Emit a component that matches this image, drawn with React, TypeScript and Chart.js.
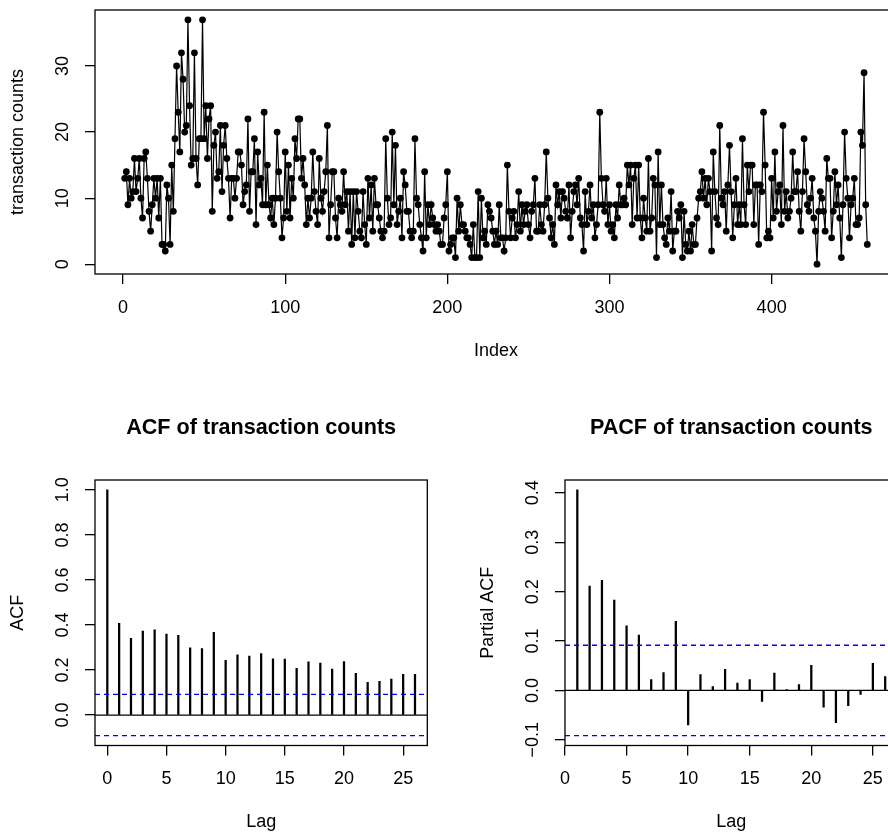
import React, { useEffect, useRef } from "react";
import { Chart, registerables } from "chart.js";

Chart.register(...registerables);

// ---------- data ----------
const transactionCounts: number[] = [
  13, 14, 9, 13, 10, 11, 16, 11, 13, 16,
  10, 7, 16, 17, 13, 8, 5, 9, 13, 10,
  13, 7, 13, 3, 3, 2, 12, 10, 3, 15,
  8, 19, 30, 23, 17, 32, 28, 20, 21, 37,
  24, 15, 16, 32, 16, 12, 19, 19, 37, 19,
  24, 16, 22, 24, 8, 18, 20, 13, 14, 21,
  11, 18, 21, 16, 13, 7, 13, 13, 10, 13,
  17, 17, 15, 9, 11, 12, 22, 8, 14, 14,
  19, 6, 17, 12, 13, 9, 23, 9, 15, 9,
  7, 10, 6, 10, 20, 14, 10, 4, 7, 17,
  8, 15, 7, 13, 10, 19, 16, 22, 22, 13,
  16, 12, 6, 10, 7, 10, 17, 11, 8, 6,
  16, 10, 8, 11, 14, 21, 4, 9, 14, 14,
  7, 4, 10, 9, 8, 14, 9, 11, 5, 11,
  3, 11, 4, 11, 8, 5, 4, 11, 6, 3,
  13, 7, 12, 5, 13, 9, 9, 7, 5, 4,
  5, 19, 10, 6, 7, 20, 9, 18, 6, 8,
  10, 4, 14, 12, 8, 8, 5, 4, 5, 19,
  10, 9, 6, 4, 2, 14, 4, 9, 6, 9,
  7, 6, 5, 6, 5, 3, 3, 7, 9, 14,
  2, 3, 4, 4, 1, 10, 5, 9, 6, 6,
  5, 4, 4, 3, 1, 6, 1, 1, 11, 1,
  10, 4, 5, 3, 9, 8, 7, 5, 3, 5,
  3, 9, 4, 4, 2, 4, 15, 8, 4, 7,
  8, 4, 6, 11, 5, 9, 6, 8, 9, 6,
  4, 8, 9, 13, 5, 5, 9, 6, 5, 9,
  17, 10, 7, 4, 6, 3, 12, 9, 11, 7,
  11, 10, 8, 7, 12, 4, 8, 11, 12, 9,
  13, 7, 6, 2, 11, 6, 8, 12, 7, 9,
  4, 6, 9, 23, 13, 9, 8, 13, 6, 9,
  5, 6, 4, 9, 7, 12, 9, 9, 10, 9,
  15, 12, 15, 6, 13, 15, 7, 15, 7, 4,
  10, 7, 5, 16, 5, 7, 13, 12, 1, 17,
  6, 12, 6, 4, 3, 7, 5, 11, 2, 5,
  5, 8, 7, 9, 1, 8, 3, 2, 5, 2,
  6, 3, 3, 7, 10, 11, 14, 10, 13, 9,
  13, 11, 2, 17, 11, 7, 6, 21, 10, 9,
  11, 5, 12, 18, 11, 4, 9, 13, 6, 9,
  6, 19, 9, 6, 15, 11, 15, 15, 6, 12,
  12, 3, 12, 11, 23, 15, 4, 5, 4, 13,
  7, 17, 8, 11, 12, 6, 21, 8, 11, 7,
  8, 10, 17, 11, 11, 14, 8, 5, 11, 19,
  14, 9, 8, 10, 13, 7, 5, 0, 8, 11,
  10, 8, 5, 16, 13, 13, 4, 8, 14, 9,
  12, 7, 1, 9, 20, 13, 10, 4, 9, 10,
  13, 6, 6, 7, 20, 18, 29, 9, 3,
];
const indexTicks = [0, 100, 200, 300, 400];
const countTicks = [0, 10, 20, 30];
const countTickLabels = ["0", "10", "20", "30"];

const acfLags = [0, 1, 2, 3, 4, 5, 6, 7, 8, 9, 10, 11, 12, 13, 14, 15, 16, 17, 18, 19, 20, 21, 22, 23, 24, 25, 26];
const acfValues = [
  1.0, 0.407, 0.341, 0.373, 0.378, 0.36, 0.354, 0.299, 0.295, 0.367,
  0.243, 0.267, 0.262, 0.273, 0.25, 0.249, 0.207, 0.236, 0.231, 0.204,
  0.237, 0.185, 0.145, 0.15, 0.16, 0.181, 0.181,
];
const acfTicks = [0, 0.2, 0.4, 0.6, 0.8, 1.0];
const acfTickLabels = ["0.0", "0.2", "0.4", "0.6", "0.8", "1.0"];

const pacfLags = [1, 2, 3, 4, 5, 6, 7, 8, 9, 10, 11, 12, 13, 14, 15, 16, 17, 18, 19, 20, 21, 22, 23, 24, 25, 26];
const pacfValues = [
  0.406, 0.211, 0.223, 0.183, 0.131, 0.112, 0.022, 0.036, 0.14, -0.07,
  0.032, 0.008, 0.043, 0.015, 0.022, -0.022, 0.035, 0.002, 0.012, 0.051,
  -0.034, -0.065, -0.031, -0.008, 0.055, 0.028,
];
const pacfTicks = [-0.1, 0, 0.1, 0.2, 0.3, 0.4];
const pacfTickLabels = ["\u22120.1", "0.0", "0.1", "0.2", "0.3", "0.4"];

const lagTicks = [0, 5, 10, 15, 20, 25];
const ciBound = 0.0915;

// ---------- style ----------
const FONT_FAMILY = "'Liberation Sans', Arial, Helvetica, sans-serif";
const TICK_SIZE = 18;
const TITLE_SIZE = 21.6;
const LW = 1.3;

function extRange(vals: number[]): [number, number] {
  const lo = Math.min(...vals);
  const hi = Math.max(...vals);
  const e = (hi - lo) * 0.04;
  return [lo - e, hi + e];
}

type HLine = { value: number; color: string; dash: number[] };

function rStylePlugin(cfg: {
  yLabels: string[];
  yTitle: string;
  xTitle: string;
  main?: string;
  hlines?: HLine[];
}) {
  return {
    id: "rstyle",
    afterDatasetsDraw(chart: any) {
      const { ctx, chartArea: a, scales } = chart;
      (cfg.hlines || []).forEach((h) => {
        const y = scales.y.getPixelForValue(h.value);
        ctx.save();
        ctx.beginPath();
        ctx.strokeStyle = h.color;
        ctx.lineWidth = LW;
        ctx.setLineDash(h.dash);
        ctx.moveTo(a.left, y);
        ctx.lineTo(a.right, y);
        ctx.stroke();
        ctx.restore();
      });
    },
    afterDraw(chart: any) {
      const { ctx, chartArea: a, scales } = chart;
      ctx.save();
      ctx.setLineDash([]);
      ctx.strokeStyle = "#000";
      ctx.lineWidth = LW;
      ctx.strokeRect(a.left, a.top, a.right - a.left, a.bottom - a.top);
      ctx.fillStyle = "#000";
      ctx.font = `${TICK_SIZE}px ${FONT_FAMILY}`;
      ctx.textAlign = "center";
      ctx.textBaseline = "middle";
      const ys = scales.y;
      ys.ticks.forEach((t: any, i: number) => {
        const py = ys.getPixelForValue(t.value);
        ctx.save();
        ctx.translate(a.left - 32, py);
        ctx.rotate(-Math.PI / 2);
        ctx.fillText(cfg.yLabels[i], 0, 0);
        ctx.restore();
      });
      ctx.save();
      ctx.translate(a.left - 77, (a.top + a.bottom) / 2);
      ctx.rotate(-Math.PI / 2);
      ctx.fillText(cfg.yTitle, 0, 0);
      ctx.restore();
      ctx.fillText(cfg.xTitle, (a.left + a.right) / 2, a.bottom + 77);
      if (cfg.main) {
        ctx.font = `bold ${TITLE_SIZE}px ${FONT_FAMILY}`;
        ctx.fillText(cfg.main, (a.left + a.right) / 2, a.top - 52);
      }
      ctx.restore();
    },
  };
}

function gridOpts() {
  return {
    drawOnChartArea: false,
    drawTicks: true,
    tickLength: 10,
    color: "#000",
    lineWidth: LW,
  };
}

function xScale(min: number, max: number, ticks: number[], height: number) {
  return {
    type: "linear",
    min,
    max,
    offset: false,
    afterBuildTicks: (s: any) => {
      s.ticks = ticks.map((v) => ({ value: v }));
    },
    afterFit: (s: any) => {
      s.height = height;
    },
    border: { display: false },
    grid: { ...gridOpts(), offset: false },
    ticks: {
      color: "#000",
      font: { family: FONT_FAMILY, size: TICK_SIZE },
      padding: 13,
      maxRotation: 0,
      minRotation: 0,
      autoSkip: false,
      callback: (v: any) => String(v),
    },
  };
}

function yScale(min: number, max: number, ticks: number[], width: number) {
  return {
    type: "linear",
    min,
    max,
    afterBuildTicks: (s: any) => {
      s.ticks = ticks.map((v) => ({ value: v }));
    },
    afterFit: (s: any) => {
      s.width = width;
    },
    border: { display: false },
    grid: gridOpts(),
    ticks: { display: false },
  };
}

function baseOptions(padding: any) {
  return {
    animation: false,
    responsive: false,
    devicePixelRatio: 1,
    events: [],
    layout: { autoPadding: false, padding },
    plugins: { legend: { display: false }, tooltip: { enabled: false } },
  };
}

function useChart(ref: React.RefObject<HTMLCanvasElement | null>, make: () => any) {
  useEffect(() => {
    if (!ref.current) return;
    const chart = new Chart(ref.current, make());
    return () => chart.destroy();
  }, []);
}

export default function App() {
  const topRef = useRef<HTMLCanvasElement | null>(null);
  const acfRef = useRef<HTMLCanvasElement | null>(null);
  const pacfRef = useRef<HTMLCanvasElement | null>(null);

  useChart(topRef, () => {
    const idx = transactionCounts.map((_, i) => i + 1);
    const [xmin, xmax] = extRange(idx);
    const [ymin, ymax] = extRange(transactionCounts);
    return {
      type: "line",
      data: {
        datasets: [
          {
            data: transactionCounts.map((v, i) => ({ x: idx[i], y: v })),
            borderColor: "#000",
            borderWidth: 1.2,
            pointRadius: 3.4,
            pointHoverRadius: 3.4,
            pointBackgroundColor: "#000",
            pointBorderWidth: 0,
            tension: 0,
            fill: false,
          },
        ],
      },
      options: {
        ...baseOptions({ left: 0, top: 10, right: 8, bottom: 0 }),
        scales: {
          x: xScale(xmin, xmax, indexTicks, 106),
          y: yScale(ymin, ymax, countTicks, 95),
        },
      },
      plugins: [
        rStylePlugin({
          yLabels: countTickLabels,
          yTitle: "transaction counts",
          xTitle: "Index",
        }),
      ],
    };
  });

  useChart(acfRef, () => {
    const [xmin, xmax] = extRange(acfLags);
    const [ymin, ymax] = extRange([...acfValues, -ciBound, ciBound]);
    return {
      type: "bar",
      data: {
        datasets: [
          {
            data: acfLags.map((l, i) => ({ x: l, y: acfValues[i] })),
            backgroundColor: "#000",
            borderWidth: 0,
            barThickness: 1.6,
            grouped: false,
          },
        ],
      },
      options: {
        ...baseOptions({ left: 0, top: 100, right: 16.7, bottom: 0 }),
        scales: {
          x: xScale(xmin, xmax, lagTicks, 87.5),
          y: yScale(ymin, ymax, acfTicks, 95),
        },
      },
      plugins: [
        rStylePlugin({
          yLabels: acfTickLabels,
          yTitle: "ACF",
          xTitle: "Lag",
          main: "ACF of transaction counts",
          hlines: [
            { value: 0, color: "#000", dash: [] },
            { value: ciBound, color: "#0000ff", dash: [5, 4] },
            { value: -ciBound, color: "#0000ff", dash: [5, 4] },
          ],
        }),
      ],
    };
  });

  useChart(pacfRef, () => {
    const [xmin, xmax] = extRange(pacfLags);
    const [ymin, ymax] = extRange([...pacfValues, -ciBound, ciBound]);
    return {
      type: "bar",
      data: {
        datasets: [
          {
            data: pacfLags.map((l, i) => ({ x: l, y: pacfValues[i] })),
            backgroundColor: "#000",
            borderWidth: 0,
            barThickness: 1.6,
            grouped: false,
          },
        ],
      },
      options: {
        ...baseOptions({ left: 0, top: 100, right: 7.5, bottom: 0 }),
        scales: {
          x: xScale(xmin, xmax, lagTicks, 87.5),
          y: yScale(ymin, ymax, pacfTicks, 121),
        },
      },
      plugins: [
        rStylePlugin({
          yLabels: pacfTickLabels,
          yTitle: "Partial ACF",
          xTitle: "Lag",
          main: "PACF of transaction counts",
          hlines: [
            { value: 0, color: "#000", dash: [] },
            { value: ciBound, color: "#0000ff", dash: [5, 4] },
            { value: -ciBound, color: "#0000ff", dash: [5, 4] },
          ],
        }),
      ],
    };
  });

  return (
    <div
      style={{
        position: "fixed",
        left: 0,
        top: 0,
        width: 888,
        height: 833,
        overflow: "hidden",
        background: "#fff",
      }}
    >
      <canvas
        ref={topRef}
        width={905}
        height={380}
        style={{ position: "absolute", left: 0, top: 0, width: 905, height: 380 }}
      />
      <canvas
        ref={acfRef}
        width={444}
        height={453}
        style={{ position: "absolute", left: 0, top: 380, width: 444, height: 453 }}
      />
      <canvas
        ref={pacfRef}
        width={461}
        height={453}
        style={{ position: "absolute", left: 444, top: 380, width: 461, height: 453 }}
      />
    </div>
  );
}
